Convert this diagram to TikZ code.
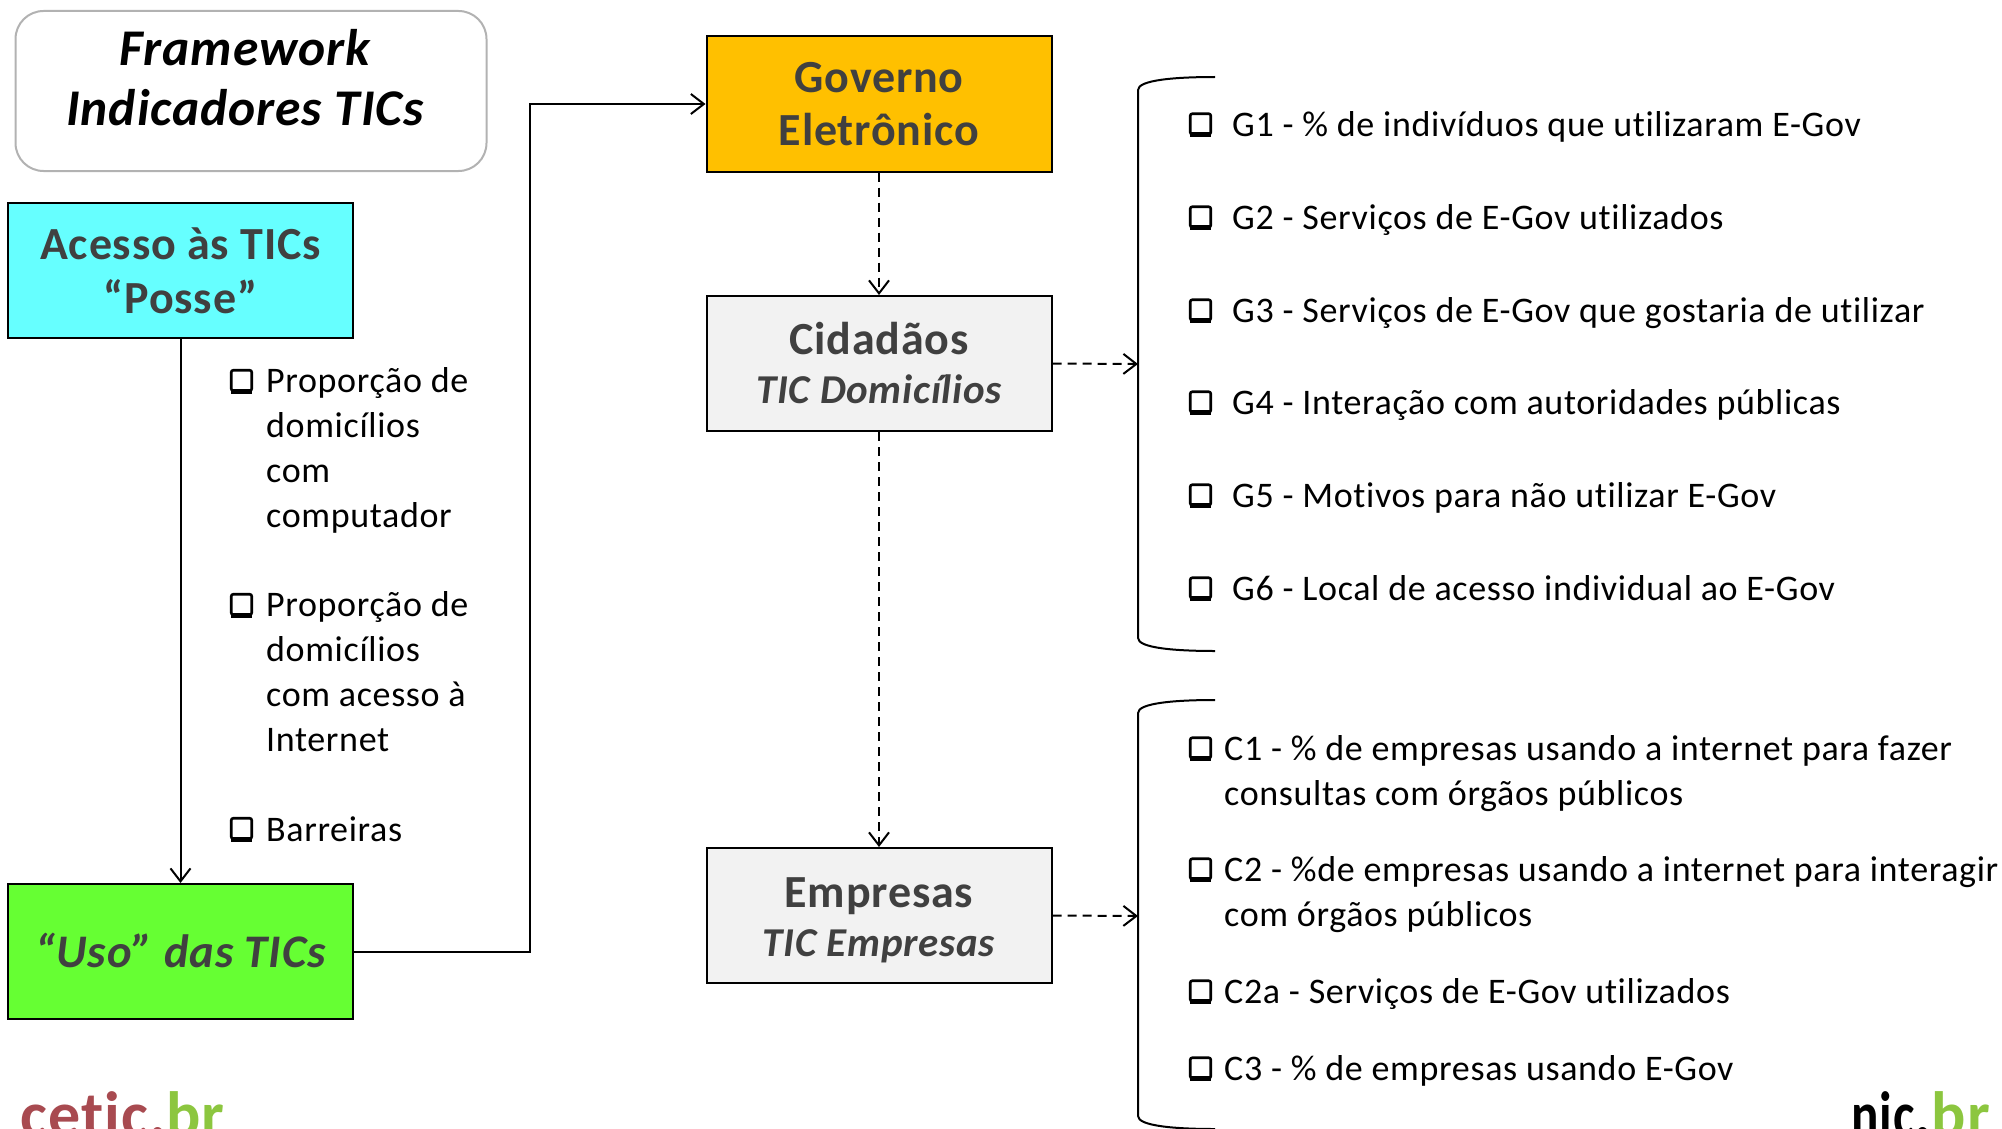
\documentclass[tikz,border=0pt]{standalone}
\usepackage{fontspec}
\setmainfont{Carlito}[Ligatures={NoCommon},LetterSpace=1.8]
\usetikzlibrary{arrows.meta,calc}
\definecolor{tgray}{HTML}{404040}
\definecolor{lred}{HTML}{A84A50}
\definecolor{lgreen}{HTML}{8CC63F}
\tikzset{
 x=1pt,y=-1pt,
 box/.style={draw=black,line width=2pt,minimum width=345pt,minimum height=135pt,anchor=center,align=center,text=tgray,font=\fontsize{46}{53}\selectfont\bfseries,inner sep=0pt},
 item/.style={anchor=base west,inner sep=0pt,align=left,text=black,font=\fontsize{36}{44.7}\selectfont},
 chk/.style={draw=black,line width=2.6pt,fill=white,rounded corners=2pt,minimum width=20.5pt,minimum height=20.5pt,inner sep=0pt},
 flow/.style={line width=2pt,-{Straight Barb[length=13pt,width=20pt,line width=2pt]}},
 dflow/.style={flow,dash pattern=on 9pt off 6pt},
 bracel/.style={line width=2pt,draw=black}
}
\begin{document}
\begin{tikzpicture}
\useasboundingbox (0,0) rectangle (2002,1129);
\begin{scope}
\clip (0,0) rectangle (2002,1129);
% framework
\node[draw=black!30,line width=2pt,rounded corners=28pt,minimum width=471pt,minimum height=160pt,align=center,inner sep=0pt] (fw) at (251,91) {\raisebox{11pt}[0pt][0pt]{\parbox{460pt}{\centering\fontsize{51.5}{60}\selectfont\bfseries\itshape\hspace*{-12pt}Framework\\\hspace*{-12pt}Indicadores TICs}}};
% boxes
\node[box,fill={rgb,255:red,102;green,255;blue,255}] (ac) at (180.5,270.5) {\raisebox{1pt}{Acesso às TICs}\\“Posse”};
\node[box,fill={rgb,255:red,102;green,255;blue,51},font=\fontsize{46.7}{53}\selectfont\bfseries\itshape] (uso) at (180.5,951.5) {\raisebox{2.5pt}{“Uso” das TICs}};
\node[box,fill={rgb,255:red,255;green,192;blue,0}] (gov) at (879,104) {Governo\\Eletrônico};
\node[box,fill=black!5] (cid) at (879,363.5) {\raisebox{1pt}{Cidadãos}\\[-4pt]\raisebox{1pt}{\fontsize{41}{46}\selectfont\bfseries\itshape TIC Domicílios}};
\node[box,fill=black!5] (emp) at (879,915.5) {\raisebox{-11pt}[0pt][0pt]{\parbox{340pt}{\centering Empresas\\[-4pt]{\fontsize{41}{46}\selectfont\bfseries\itshape TIC Empresas}}}};
% connectors
\draw[flow] (ac) -- (uso);
\coordinate (bend) at (530,104);
\draw[flow] (uso.east) -| (bend) -- (gov.west);
\draw[dflow] (gov) -- (cid);
\draw[dflow] (cid) -- (emp);
\coordinate (b1) at (1138,364);
\coordinate (b2) at (1138,916);
\draw[dflow] (cid.east) -- (b1);
\draw[dflow] (emp.east) -- (b2);
% braces
\draw[bracel] (1215,77) .. controls (1175,77) and (1138,80) .. (1138,90) -- (1138,638) .. controls (1138,648) and (1175,651) .. (1215,651);
\draw[bracel] (1215,700) .. controls (1175,700) and (1138,703) .. (1138,713) -- (1138,1116) .. controls (1138,1126) and (1175,1129) .. (1215,1129);
% checkboxes
\foreach \x/\y/\n in {241.5/380.5/la,241.5/604.5/lb,241.5/828.5/lc,1200.5/124/g1,1200.5/217/g2,1200.5/310/g3,1200.5/402/g4,1200.5/495/g5,1200.5/588/g6,1200.5/748/c1,1200.5/869/c2,1200.5/991/c3,1200.5/1068/c4}{
 \node[chk] (\n) at (\x,\y) {};
 \draw[line width=5pt] ($(\n.south west)+(1,-1)$) -- ($(\n.south east)+(-1,-1)$);
}
% left items
\node[item] (t1) at (266,527) {Proporção de\\domicílios\\com\\computador};
\node[item] (t2) at (266,751) {Proporção de\\domicílios\\com acesso à\\Internet};
\node[item] (t3) at (266,841) {Barreiras};
% right items
\node[item] (tg1) at (1232,136) {G1 - \% de indivíduos que utilizaram E-Gov};
\node[item] (tg2) at (1232,229) {G2 - Serviços de E-Gov utilizados};
\node[item] (tg3) at (1232,322) {G3 - Serviços de E-Gov que gostaria de utilizar};
\node[item] (tg4) at (1232,414) {G4 - Interação com autoridades públicas};
\node[item] (tg5) at (1232,507) {G5 - Motivos para não utilizar E-Gov};
\node[item] (tg6) at (1232,600) {G6 - Local de acesso individual ao E-Gov};
\node[item] (tc1) at (1224,805) {C1 - \% de empresas usando a internet para fazer\\consultas com órgãos públicos};
\node[item] (tc2) at (1224,926) {C2 - \%de empresas usando a internet para interagir\\com órgãos públicos};
\node[item] (tc3) at (1224,1003) {C2a - Serviços de E-Gov utilizados};
\node[item] (tc4) at (1224,1080) {C3 - \% de empresas usando E-Gov};
% logos
\node[anchor=base west,inner sep=0pt,font=\fontsize{64}{64}\selectfont\bfseries,text=lred] (l1) at (20,1136) {cetic.{\color{lgreen}br}};
\node[anchor=base east,inner sep=0pt,font=\fontsize{64}{64}\selectfont\bfseries] (l2) at (1990,1136) {\scalebox{0.8}[1]{nic}.{\color{lgreen}br}};
\end{scope}
\end{tikzpicture}
\end{document}
